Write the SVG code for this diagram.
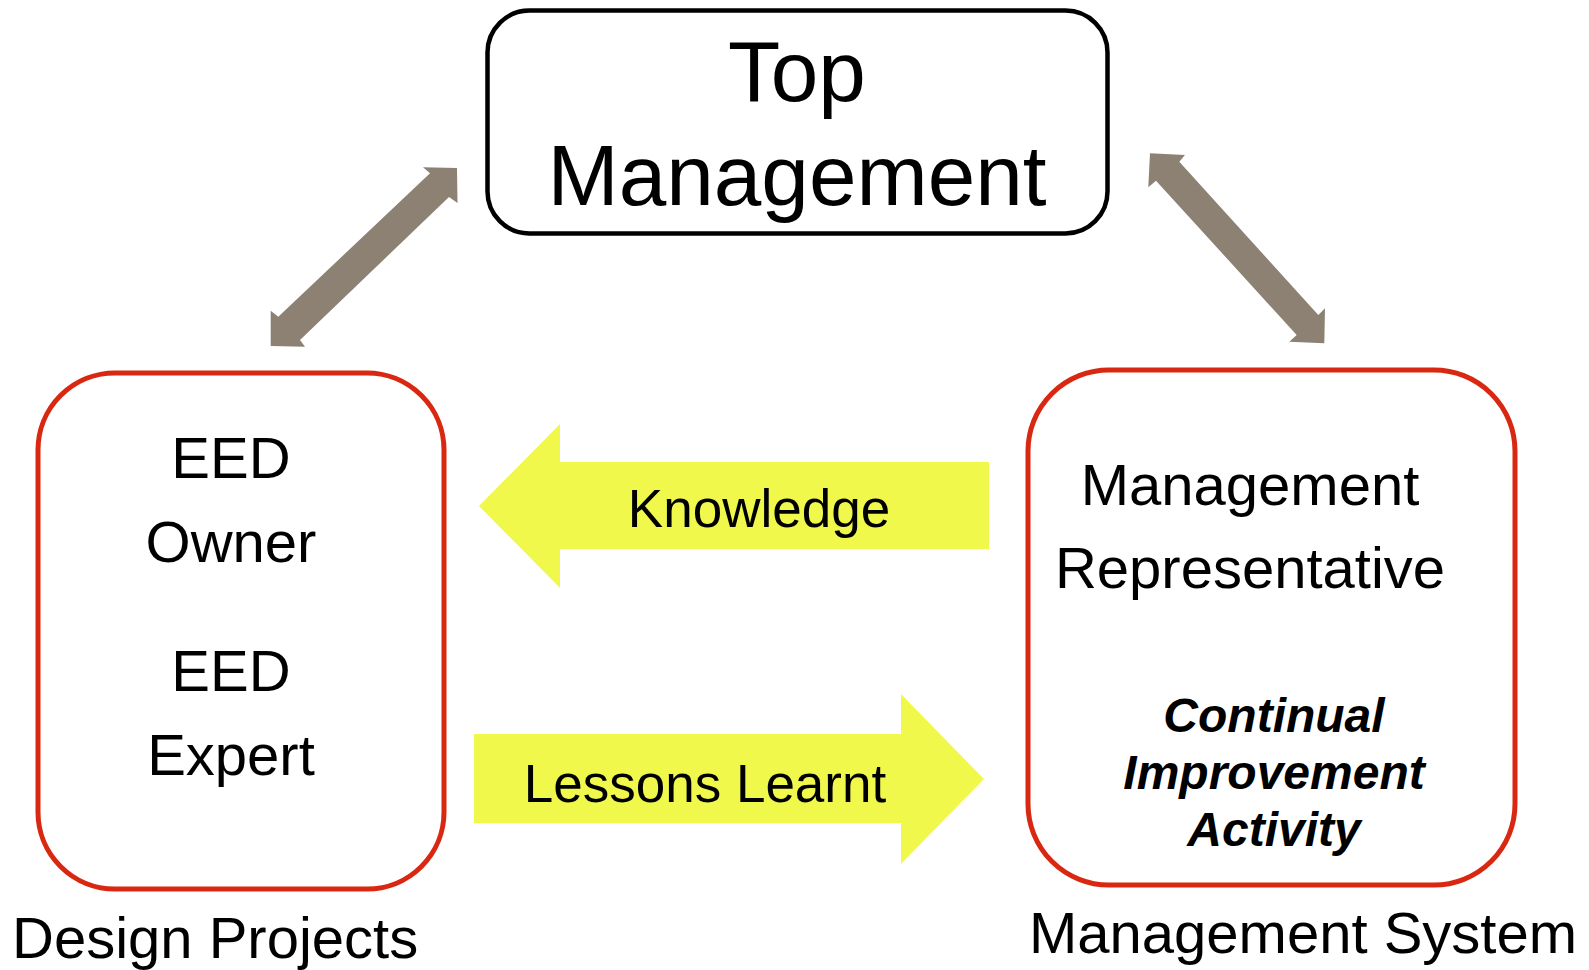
<svg xmlns="http://www.w3.org/2000/svg" width="1589" height="970" viewBox="0 0 1589 970">
  <style>
    text { font-family: "Liberation Sans", Arial, sans-serif; fill: #000; }
    .mid { text-anchor: middle; }
    .box-red { fill: #fff; stroke: #D92811; stroke-width: 5; }
    .box-black { fill: #fff; stroke: #000; stroke-width: 4.5; }
    .flow { fill: #F1F84C; }
    .link { fill: #8C8172; }
    .bi { font-weight: bold; font-style: italic; }
  </style>
  <rect width="1589" height="970" fill="#fff"/>

  <!-- two-way links to top management -->
  <g id="connectors">
    <polygon class="link" points="457,168 457.5,203 449,197 300,340 305,346.7 270.7,346 270.7,310.7 278.3,316.7 430,173.3 423,167.3"/>
    <polygon class="link" points="1150,153.3 1185,155 1179.3,161.7 1318.3,315 1325,308.3 1324.3,343.3 1289.3,341.7 1296.7,335 1156,180.7 1148.3,187.3"/>
  </g>

  <g id="top-management">
    <rect class="box-black" x="487.5" y="10.5" width="620" height="223" rx="42"/>
    <text class="mid" x="797" y="101" font-size="85.5">Top</text>
    <text class="mid" x="797" y="205" font-size="85.5">Management</text>
  </g>

  <g id="design-projects">
    <rect class="box-red" x="38" y="373" width="406" height="516" rx="77"/>
    <text class="mid" x="231" y="478" font-size="58">EED</text>
    <text class="mid" x="231" y="562" font-size="58">Owner</text>
    <text class="mid" x="231" y="691" font-size="58">EED</text>
    <text class="mid" x="231" y="775" font-size="58">Expert</text>
    <text x="12" y="958" font-size="58">Design Projects</text>
  </g>

  <g id="management-system">
    <rect class="box-red" x="1028" y="370" width="487" height="515" rx="81"/>
    <text class="mid" x="1250" y="505" font-size="58">Management</text>
    <text class="mid" x="1250" y="588" font-size="58">Representative</text>
    <text class="mid bi" x="1274" y="732" font-size="48">Continual</text>
    <text class="mid bi" x="1274" y="789" font-size="48">Improvement</text>
    <text class="mid bi" x="1274" y="846" font-size="48">Activity</text>
    <text x="1029" y="953" font-size="58">Management System</text>
  </g>

  <g id="knowledge">
    <polygon class="flow" points="479,506 560,424 560,462 989,462 989,549 560,549 560,588"/>
    <text class="mid" x="759" y="527" font-size="53">Knowledge</text>
  </g>

  <g id="lessons-learnt">
    <polygon class="flow" points="474,734 901,734 901,694 984,779 901,864 901,823 474,823"/>
    <text class="mid" x="705" y="802" font-size="53">Lessons Learnt</text>
  </g>
</svg>
